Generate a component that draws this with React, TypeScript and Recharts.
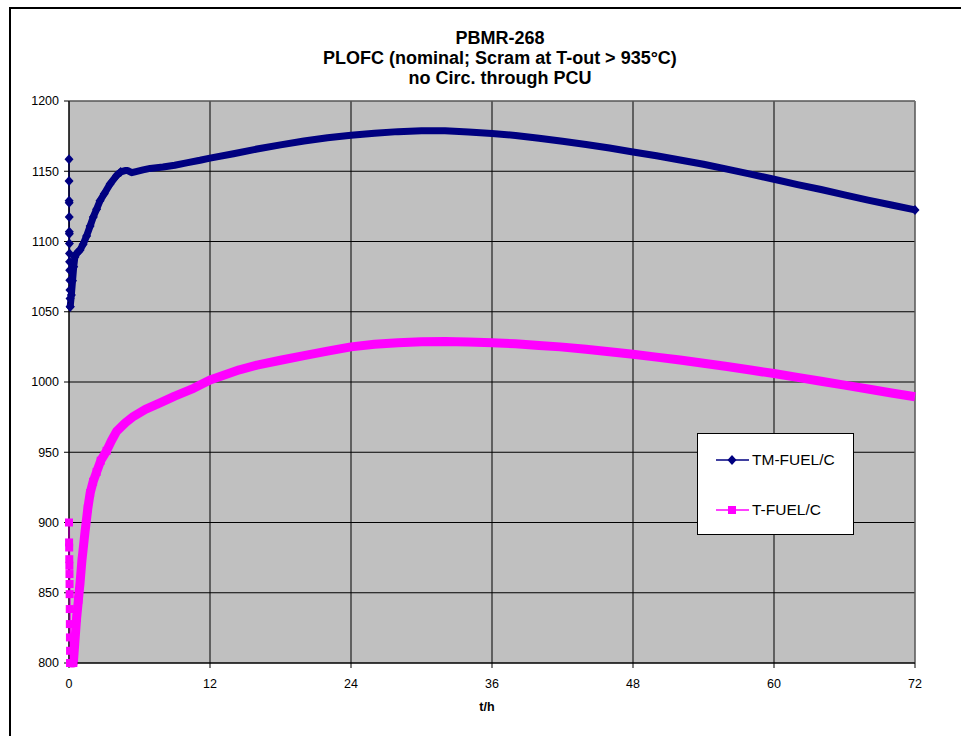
import React from 'react';
import { LineChart, Line, XAxis, YAxis, CartesianGrid, ReferenceLine } from 'recharts';

// TM-FUEL/C : stack of points right after t=0, then the main curve
const tmStartTime = [0, 0.005, 0.01, 0.015, 0.02, 0.025, 0.03, 0.035, 0.04, 0.05, 0.06, 0.07, 0.08, 0.09, 0.1];
const tmStartValue = [1158.5, 1143, 1129, 1127.5, 1117.5, 1107, 1105.5, 1098.5, 1091.5, 1085.5, 1079.5, 1072.5, 1065.5, 1059.5, 1053.5];

const tmTime = [
  0.1, 0.2, 0.3, 0.4, 0.5, 0.7, 0.94, 1.2, 1.5, 1.8, 2.07, 2.35, 2.64, 3.0, 3.5, 4.06, 4.4, 4.77, 5.0, 5.34, 5.7,
  6.3, 6.9, 8, 9, 10, 11.15, 12, 14, 16, 18, 20, 22, 24, 26, 28, 30, 32, 34, 36, 38, 40, 42, 44, 46, 48, 50, 52,
  54, 56, 58, 60, 62, 64, 66, 68, 70, 72,
];
const tmValue = [
  1053.5, 1062, 1072, 1082, 1089, 1092, 1094, 1098, 1104, 1111, 1117.5, 1123, 1129, 1134, 1141, 1147, 1149.5, 1150.5,
  1150.5, 1149, 1149.8, 1151, 1152, 1153, 1154.3, 1156, 1157.8, 1159.3, 1162.5, 1165.8, 1168.8, 1171.5, 1173.8,
  1175.6, 1177, 1178.2, 1178.8, 1178.8, 1178, 1176.8, 1175.5, 1173.5, 1171.3, 1169, 1166.5, 1163.7, 1161, 1158,
  1155, 1151.5, 1148, 1144.3, 1140.5, 1137, 1133.2, 1129.5, 1126, 1122.5,
];

// T-FUEL/C
const tStartTime = [0, 0.008, 0.016, 0.024, 0.032, 0.04, 0.048, 0.056, 0.064, 0.072, 0.08, 0.09, 0.1];
const tStartValue = [900, 885.8, 882.2, 873.9, 869.2, 863.3, 856.2, 849, 838.4, 827.7, 818.2, 808.7, 800];

const tTime = [
  0.1, 0.37, 0.5, 0.65, 0.8, 0.94, 1.1, 1.36, 1.6, 1.8, 2.05, 2.35, 2.7, 3.2, 3.6, 4.06, 4.8, 5.5, 6.5, 7.7, 9,
  10.6, 12, 14.5, 16, 18, 20, 22, 24, 26, 28, 30, 32, 34, 36, 38, 40, 41.8, 44, 46, 48, 50, 52, 54, 56, 58, 60,
  62, 64, 66, 68, 70, 72,
];
const tValue = [
  800, 800, 815, 832, 845, 857, 873, 893, 910, 921, 929, 936, 944, 951, 958, 965, 971, 975.6, 980.5, 985, 990,
  995.5, 1001.5, 1008.7, 1012, 1015.5, 1018.8, 1022, 1025, 1026.8, 1028, 1028.6, 1028.8, 1028.5, 1028, 1027.2,
  1026, 1025, 1023.3, 1021.6, 1019.7, 1017.7, 1015.6, 1013.3, 1011, 1008.5, 1006, 1003.3, 1000.5, 997.8, 995,
  992.2, 989.5,
];

const xTicks = [0, 12, 24, 36, 48, 60, 72];
const yTicks = [800, 850, 900, 950, 1000, 1050, 1100, 1150, 1200];

const NAVY = '#000080';
const MAGENTA = '#FF00FF';
const FONT = '"Liberation Sans", Arial, sans-serif';

const pairs = (ts: number[], vs: number[]) => ts.map((t, i) => ({ t, v: vs[i] }));
const tmStart = pairs(tmStartTime, tmStartValue);
const tmMain = pairs(tmTime, tmValue);
const tStart = pairs(tStartTime, tStartValue);
const tMain = pairs(tTime, tValue);

const diamond = (cx: number, cy: number, key: string) => (
  <path key={key} d={`M${cx},${cy - 5}L${cx + 4.5},${cy}L${cx},${cy + 5}L${cx - 4.5},${cy}Z`} fill={NAVY} />
);
const square = (cx: number, cy: number, key: string) => (
  <rect key={key} x={cx - 4} y={cy - 4} width={8} height={8} fill={MAGENTA} />
);

// markers only where the points are far enough apart to show (start) and at the last point
const tmDot = (limit: number) => (p: any) =>
  p.payload.t <= limit || p.payload.t >= 72
    ? diamond(p.cx, p.cy, `tm${limit}-${p.index}`)
    : <g key={`tm${limit}-${p.index}`} />;
const tDot = (limit: number) => (p: any) =>
  p.payload.t <= limit ? square(p.cx, p.cy, `t${limit}-${p.index}`) : <g key={`t${limit}-${p.index}`} />;

function LegendBox() {
  return (
    <div
      style={{
        position: 'absolute', left: 697, top: 433, width: 157, height: 102, boxSizing: 'border-box',
        background: '#fff', border: '1px solid #000', fontFamily: FONT, fontSize: 15.5,
      }}
    >
      <svg style={{ position: 'absolute', left: 18, top: 19 }} width={34} height={14}>
        <line x1={0} y1={7} x2={33} y2={7} stroke={NAVY} strokeWidth={1.5} />
        {diamond(16, 7, 'l1')}
      </svg>
      <div style={{ position: 'absolute', left: 54, top: 16, lineHeight: '20px' }}>TM-FUEL/C</div>
      <svg style={{ position: 'absolute', left: 18, top: 69 }} width={34} height={14}>
        <line x1={0} y1={7} x2={33} y2={7} stroke={MAGENTA} strokeWidth={1.5} />
        {square(16, 7, 'l2')}
      </svg>
      <div style={{ position: 'absolute', left: 54, top: 66, lineHeight: '20px' }}>T-FUEL/C</div>
    </div>
  );
}

export default function App() {
  const tick = { fontSize: 12.5, fill: '#000', fontFamily: FONT };
  return (
    <div style={{ position: 'fixed', left: 0, top: 0, width: 961, height: 736, overflow: 'hidden', background: '#fff' }}>
      <div style={{ position: 'absolute', left: 9, top: 7, width: 1100, height: 900, border: '2px solid #000' }} />
      <div style={{ position: 'absolute', left: 0, top: 0 }}>
        <LineChart
          width={961}
          height={736}
          margin={{ top: 101, right: 46, bottom: 43, left: 19 }}
        >
          <CartesianGrid stroke="#000" fill="#C0C0C0" fillOpacity={1} verticalValues={xTicks} horizontalValues={yTicks} />
          <XAxis
            type="number"
            dataKey="t"
            domain={[0, 72]}
            ticks={xTicks}
            height={30}
            tick={tick}
            tickSize={5}
            tickMargin={11}
            stroke="#000"
          />
          <YAxis
            type="number"
            dataKey="v"
            domain={[800, 1200]}
            ticks={yTicks}
            width={50}
            tick={tick}
            tickSize={5}
            tickMargin={5}
            stroke="#000"
          />
          <ReferenceLine y={1200} stroke="#808080" />
          <ReferenceLine x={72} stroke="#808080" />
          <Line data={tMain} dataKey="v" stroke={MAGENTA} strokeWidth={9} dot={tDot(3.3)} activeDot={false}
            isAnimationActive={false} type="linear" strokeLinejoin="round" />
          <Line data={tStart} dataKey="v" stroke={MAGENTA} strokeWidth={2} dot={tDot(1)} activeDot={false}
            isAnimationActive={false} type="linear" />
          <Line data={tmMain} dataKey="v" stroke={NAVY} strokeWidth={7} dot={tmDot(4.5)} activeDot={false}
            isAnimationActive={false} type="linear" strokeLinejoin="round" />
          <Line data={tmStart} dataKey="v" stroke={NAVY} strokeWidth={1.5} dot={tmDot(1)} activeDot={false}
            isAnimationActive={false} type="linear" />
        </LineChart>
      </div>
      <div
        style={{
          position: 'absolute', left: 0, top: 28, width: 1000, textAlign: 'center', fontFamily: FONT,
          fontWeight: 'bold', fontSize: 18, lineHeight: '20px', color: '#000',
        }}
      >
        <div>PBMR-268</div>
        <div>PLOFC (nominal; Scram at T-out &gt; 935°C)</div>
        <div>no Circ. through PCU</div>
      </div>
      <div
        style={{
          position: 'absolute', left: 387, top: 699, width: 200, textAlign: 'center', fontFamily: FONT,
          fontWeight: 'bold', fontSize: 12.5, lineHeight: '16px',
        }}
      >
        t/h
      </div>
      <LegendBox />
    </div>
  );
}
